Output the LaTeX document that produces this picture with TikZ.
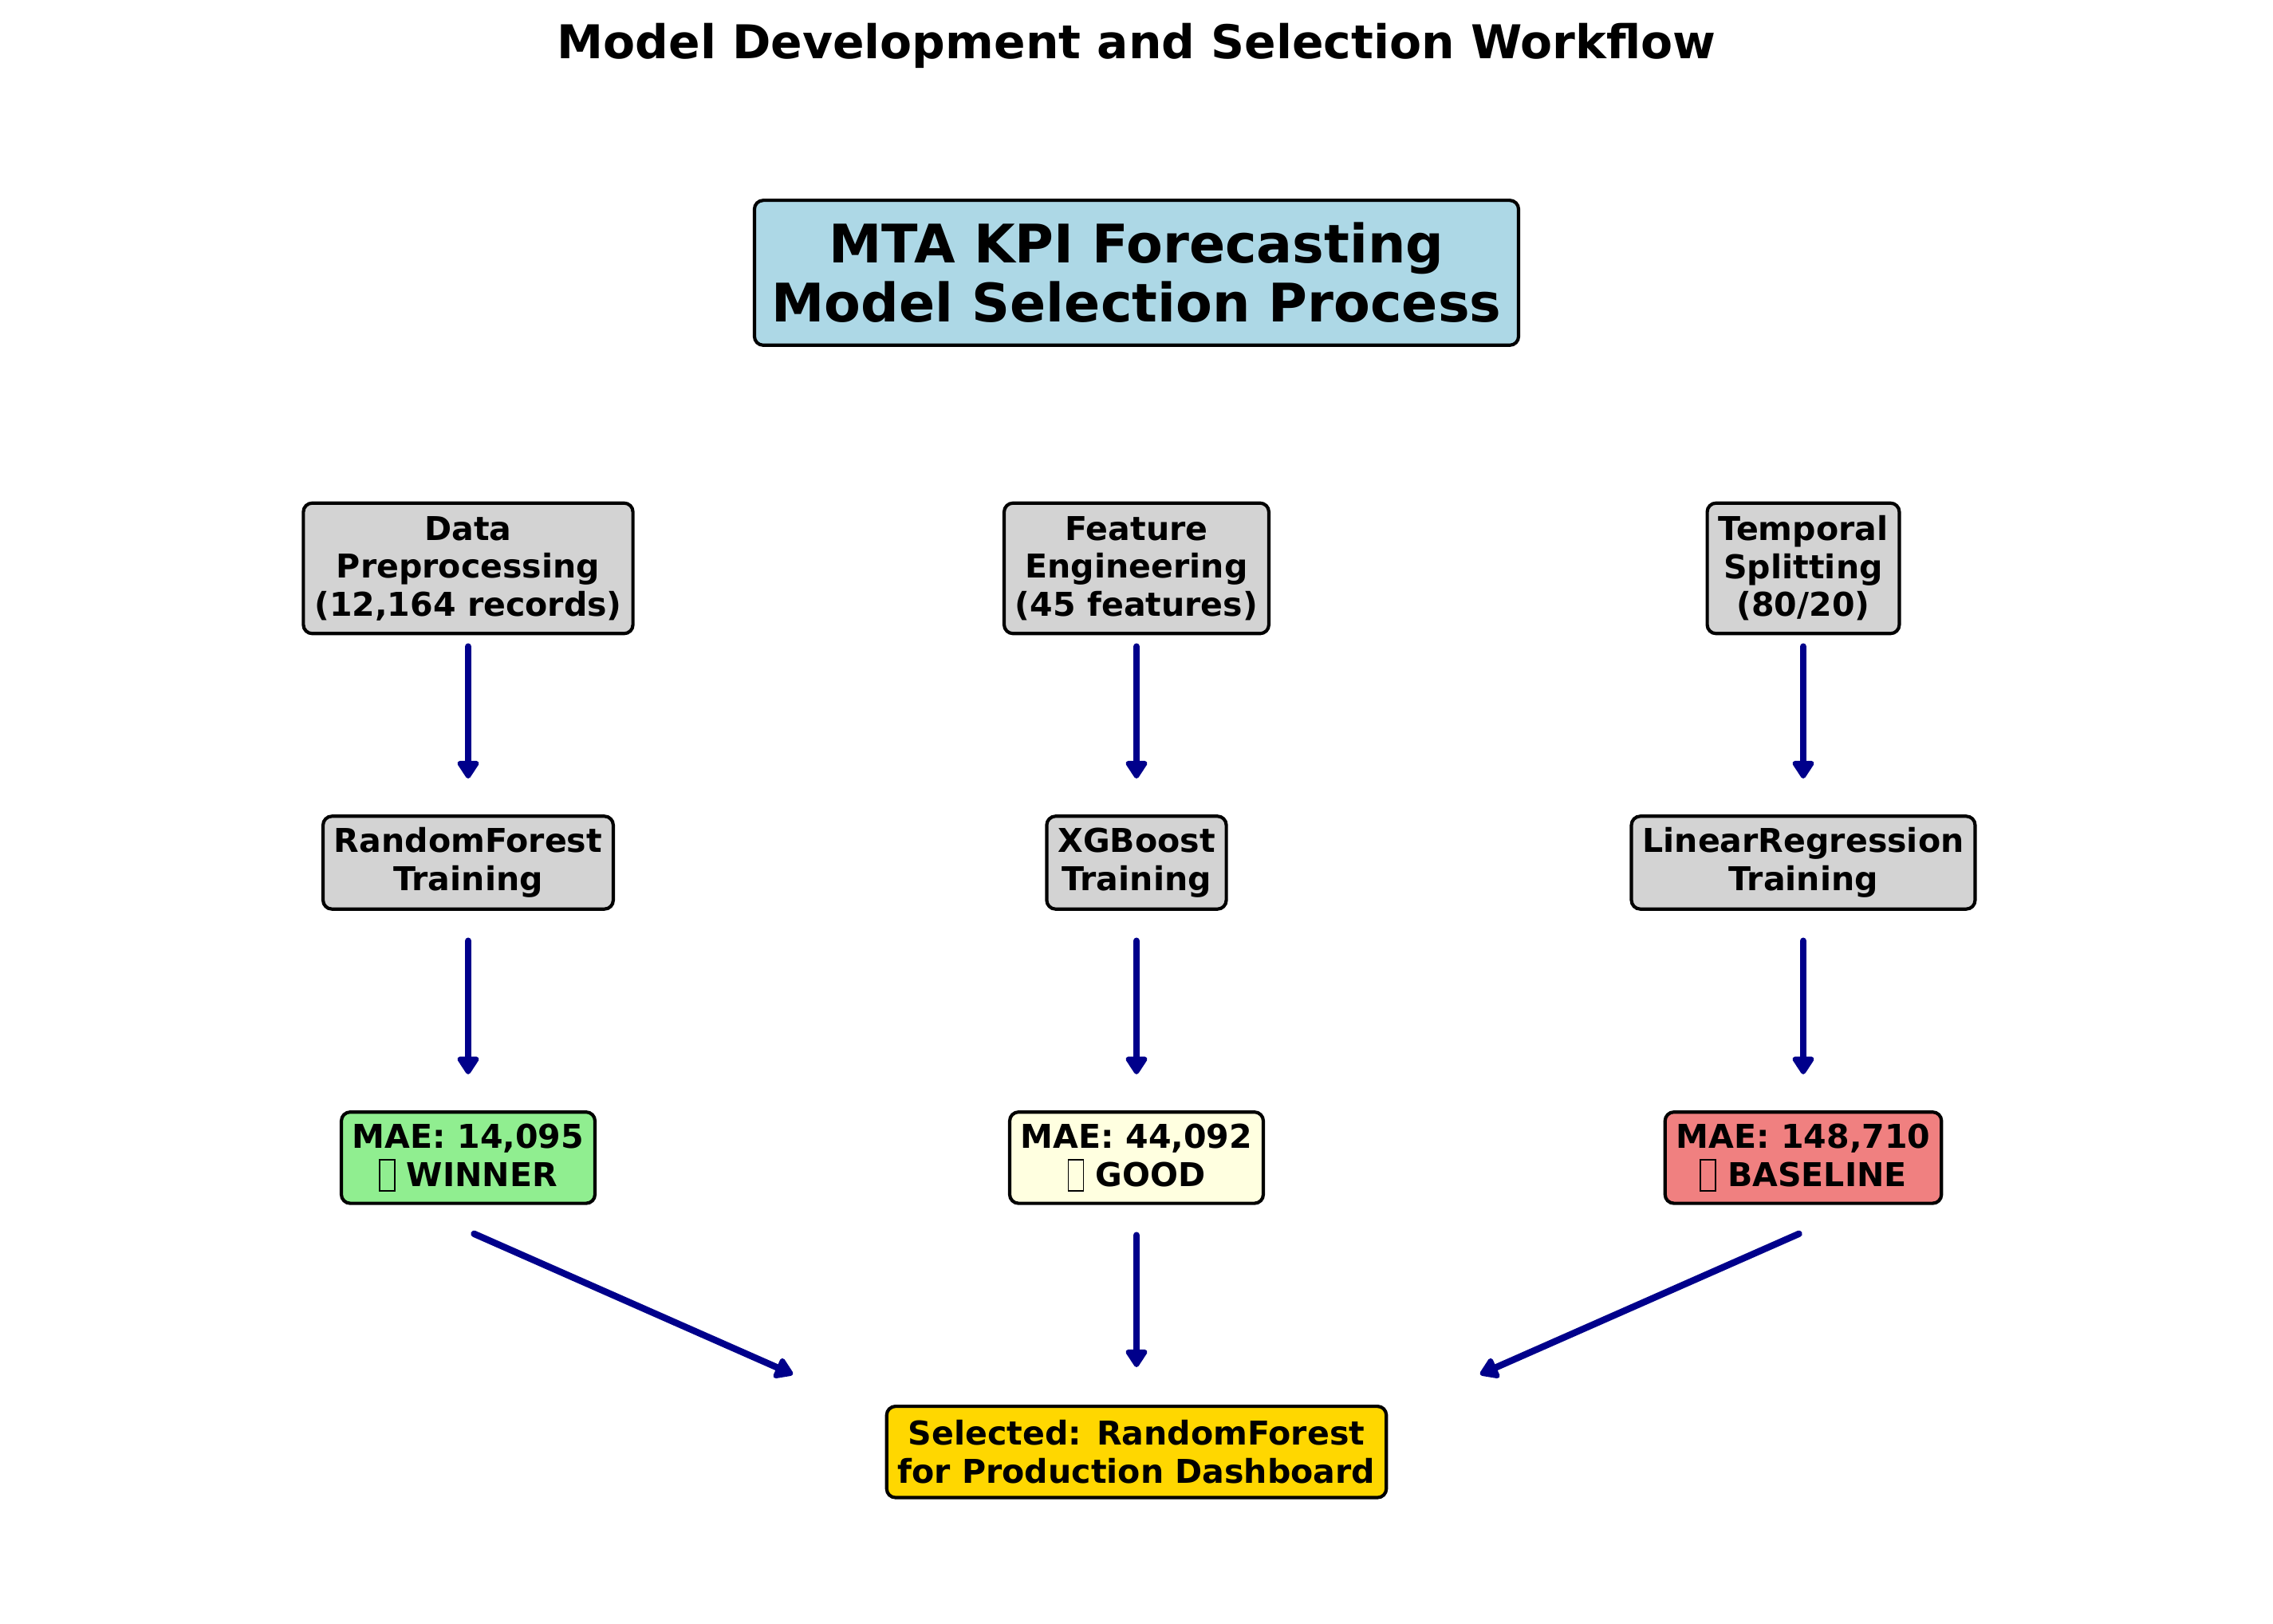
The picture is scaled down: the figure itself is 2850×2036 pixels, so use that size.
\documentclass[tikz,border=0pt]{standalone}
\usepackage{fontspec}
\setmainfont{DejaVu Sans}
\usetikzlibrary{arrows.meta}
\definecolor{boxblue}{HTML}{ADD8E6}
\definecolor{boxgray}{HTML}{D3D3D3}
\definecolor{boxgreen}{HTML}{90EE90}
\definecolor{boxyellow}{HTML}{FFFFE0}
\definecolor{boxred}{HTML}{F08080}
\definecolor{boxgold}{HTML}{FFD700}
\definecolor{arrowblue}{HTML}{00008B}
\newcommand{\tofubox}{{\setlength{\fboxsep}{0pt}\setlength{\fboxrule}{0.6pt}\raisebox{-0.12em}{\fbox{\rule{0pt}{0.9em}\hspace{0.42em}}}}}
\tikzset{
  stagebox/.style={draw=black, line width=1.5pt, rounded corners=4pt, align=center,
    font=\fontsize{14.8}{17.1}\selectfont\bfseries, inner xsep=5pt, inner ysep=0pt},
  bigbox/.style={stagebox, font=\fontsize{24}{26.6}\selectfont\bfseries, inner xsep=7.8pt},
  figtitle/.style={font=\fontsize{21}{24}\selectfont\bfseries, anchor=base, inner sep=0pt},
  flow/.style={draw=arrowblue, line width=3pt, line cap=round,
    -{Triangle[length=9pt,width=11pt,round]}},
}
\begin{document}
\begin{tikzpicture}[x=0.36pt,y=-0.36pt]
\useasboundingbox[fill=white] (0,0) rectangle (2850,2036);

\node[figtitle] (title) at (1425,74) {Model Development and Selection Workflow};

\node[bigbox, fill=boxblue, minimum height=65.4pt] (main) at (1425,342)
  {MTA KPI Forecasting\\Model Selection Process};

% row 1
\node[stagebox, fill=boxgray, minimum height=58.9pt] (pre) at (587,712.5)
  {Data\\Preprocessing\\(12,164 records)};
\node[stagebox, fill=boxgray, minimum height=58.9pt] (feat) at (1425,712.5)
  {Feature\\Engineering\\(45 features)};
\node[stagebox, fill=boxgray, minimum height=58.9pt] (split) at (2261,712.5)
  {Temporal\\Splitting\\(80/20)};

% row 2
\node[stagebox, fill=boxgray, minimum height=41.9pt] (rf) at (587,1081.5)
  {RandomForest\\Training};
\node[stagebox, fill=boxgray, minimum height=41.9pt] (xgb) at (1425,1081.5)
  {XGBoost\\Training};
\node[stagebox, fill=boxgray, minimum height=41.9pt] (lr) at (2261,1081.5)
  {LinearRegression\\Training};

% row 3
\node[stagebox, fill=boxgreen, minimum height=41.2pt] (mrf) at (587,1451.4)
  {MAE: 14,095\\\tofubox\ WINNER};
\node[stagebox, fill=boxyellow, minimum height=41.2pt] (mxgb) at (1425,1451.4)
  {MAE: 44,092\\\tofubox\ GOOD};
\node[stagebox, fill=boxred, minimum height=41.2pt] (mlr) at (2261,1451.4)
  {MAE: 148,710\\\tofubox\ BASELINE};

% final
\node[stagebox, fill=boxgold, minimum height=41.2pt] (sel) at (1425,1820.3)
  {Selected: RandomForest\\for Production Dashboard};

% arrow end points
\coordinate (a1s) at (587,810.6);  \coordinate (a1e) at (587,976);
\coordinate (b1s) at (1425,810.6); \coordinate (b1e) at (1425,976);
\coordinate (c1s) at (2261,810.6); \coordinate (c1e) at (2261,976);
\coordinate (a2s) at (587,1179.6);  \coordinate (a2e) at (587,1346.8);
\coordinate (b2s) at (1425,1179.6); \coordinate (b2e) at (1425,1346.8);
\coordinate (c2s) at (2261,1179.6); \coordinate (c2e) at (2261,1346.8);
\coordinate (a3s) at (594.4,1546.8);  \coordinate (a3e) at (994.2,1723.1);
\coordinate (b3s) at (1425,1548.6);   \coordinate (b3e) at (1425,1714);
\coordinate (c3s) at (2255.6,1546.8); \coordinate (c3e) at (1855.8,1723.1);

\draw[flow] (a1s) -- (a1e);
\draw[flow] (b1s) -- (b1e);
\draw[flow] (c1s) -- (c1e);
\draw[flow] (a2s) -- (a2e);
\draw[flow] (b2s) -- (b2e);
\draw[flow] (c2s) -- (c2e);
\draw[flow] (a3s) -- (a3e);
\draw[flow] (b3s) -- (b3e);
\draw[flow] (c3s) -- (c3e);
\end{tikzpicture}
\end{document}
